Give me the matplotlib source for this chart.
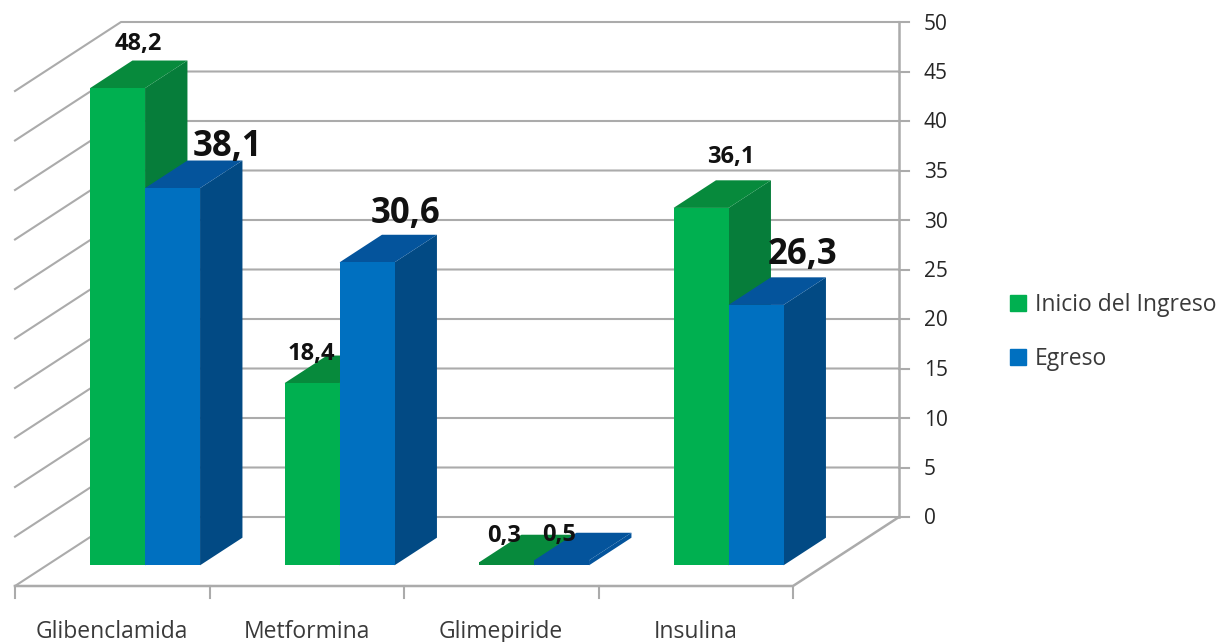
import matplotlib
matplotlib.use("Agg")
import matplotlib.pyplot as plt
from matplotlib.patches import Patch

categories = ["Glibenclamida", "Metformina", "Glimepiride", "Insulina"]
inicio = [48.2, 18.4, 0.3, 36.1]
egreso = [38.1, 30.6, 0.5, 26.3]
inicio_labels = ["48,2", "18,4", "0,3", "36,1"]
egreso_labels = ["38,1", "30,6", "0,5", "26,3"]
y_ticks = [0, 5, 10, 15, 20, 25, 30, 35, 40, 45, 50]

# Chart box in pixels, the "3D" look is only a shear
left, right, floor, px_per_unit = 15, 793, 586, 9.9
wall_dx, wall_dy = 106, 69
slot = (right - left) / len(categories)
bar_w = 55
bar_front, bar_depth = 0.3, 0.4

GRID = "#ababab"
FONT = "Open Sans"


def project(x, value, depth):
    # depth 0 is the front of the floor, depth 1 is the back wall
    return x + wall_dx * depth, floor - value * px_per_unit - wall_dy * depth


def bar3d(ax, x, value, front, top, side):
    # very short bars render as one flat dark slab in the original
    if value < 1:
        front = side = top
    d0, d1 = bar_front, bar_front + bar_depth
    corner = lambda a, v, d: project(x + a * bar_w, v, d)
    ax.fill(*zip(corner(1, 0, d0), corner(1, 0, d1), corner(1, value, d1), corner(1, value, d0)),
            color=side, lw=0, zorder=3)
    ax.fill(*zip(corner(0, value, d0), corner(1, value, d0), corner(1, value, d1), corner(0, value, d1)),
            color=top, lw=0, zorder=3)
    ax.fill(*zip(corner(0, 0, d0), corner(1, 0, d0), corner(1, value, d0), corner(0, value, d0)),
            color=front, lw=0, zorder=3)


fig = plt.figure(figsize=(12.22, 6.42), dpi=100)
ax = fig.add_axes([0, 0, 1, 1])
ax.set_xlim(0, 1222)
ax.set_ylim(642, 0)
ax.axis("off")

# Walls and gridlines
for t in y_ticks:
    x0, y0 = project(left, t, 0)
    x1, y1 = project(left, t, 1)
    x2, y2 = project(right, t, 1)
    ax.plot([x0, x1, x2], [y0, y1, y2], color=GRID, lw=1.5, zorder=1)
    ax.plot([x2, x2 + 10], [y2, y2], color=GRID, lw=1.5, zorder=1)
    ax.text(x2 + 25, y2 + 2, str(t), family=FONT, fontsize=15, color="#262626", ha="left", va="center")

x_back, y_base = project(right, 0, 1)
ax.plot([x_back, x_back], [y_base, project(right, 50, 1)[1]], color=GRID, lw=1.8, zorder=1)
ax.plot([left, right, x_back], [floor, floor, y_base], color=GRID, lw=1.8, zorder=1)

# Ticks and category labels
for i in range(len(categories) + 1):
    ax.plot([left + i * slot] * 2, [floor, floor + 12], color=GRID, lw=1.5, zorder=1)
for i, name in enumerate(categories):
    ax.text(left + (i + 0.5) * slot, 638, name, family=FONT, fontsize=16.5, color="#3a3a3a",
            ha="center", va="baseline")

# Bars, left to right so later ones cover earlier ones
for i in range(len(categories)):
    x = left + 1 + (i + 0.5) * slot - bar_w
    bar3d(ax, x, inicio[i], "#00b050", "#078a3c", "#067d3a")
    bar3d(ax, x + bar_w, egreso[i], "#0070c0", "#04549c", "#024a84")

# Data labels were dragged by hand in the original, so each has its own offset and size
inicio_offsets = [(0, 17), (-22, 2), (-24, -1), (9, 23)]
egreso_offsets = [(34, 14), (17, 21), (-24, -2), (25, 22)]
inicio_sizes = [17, 17, 17, 17]
egreso_sizes = [25, 25, 17, 25]
for i in range(len(categories)):
    x = left + 1 + (i + 0.5) * slot - bar_w
    mid = bar_front + bar_depth
    for bx, val, txt, off, size in [
        (x, inicio[i], inicio_labels[i], inicio_offsets[i], inicio_sizes[i]),
        (x + bar_w, egreso[i], egreso_labels[i], egreso_offsets[i], egreso_sizes[i]),
    ]:
        px, py = project(bx + bar_w / 2 - wall_dx * bar_depth / 2, val, mid)
        ax.text(px + off[0], py - off[1], txt, family=FONT, fontsize=size, fontweight="bold",
                color="#111111", ha="center", va="center", zorder=5)

handles = [Patch(color="#00b050", label="Inicio del Ingreso"), Patch(color="#0070c0", label="Egreso")]
ax.legend(handles=handles, loc="center left", bbox_to_anchor=(1010, 332),
          bbox_transform=ax.transData, frameon=False, ncol=1, handlelength=0.68, handleheight=0.7,
          handletextpad=0.42, labelspacing=1.3, borderpad=0, borderaxespad=0,
          prop={"family": FONT, "size": 16.5}, labelcolor="#3a3a3a")

fig.savefig("out.png", dpi=100)
